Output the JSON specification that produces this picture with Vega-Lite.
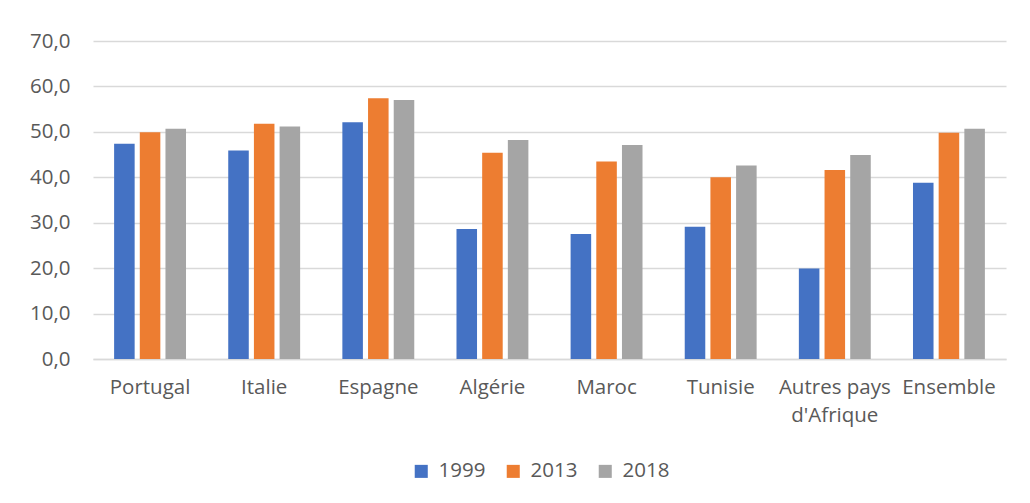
{
  "$schema": "https://vega.github.io/schema/vega-lite/v6.json",
  "width": 913,
  "height": 318,
  "padding": {"left": 29, "top": 31, "right": 22, "bottom": 10},
  "background": "white",
  "config": {
    "font": "Open Sans",
    "view": {"stroke": null}
  },
  "data": {
    "values": [
      {"pays": "Portugal", "annee": "1999", "valeur": 47.4},
      {"pays": "Portugal", "annee": "2013", "valeur": 49.9},
      {"pays": "Portugal", "annee": "2018", "valeur": 50.7},
      {"pays": "Italie", "annee": "1999", "valeur": 45.9},
      {"pays": "Italie", "annee": "2013", "valeur": 51.8},
      {"pays": "Italie", "annee": "2018", "valeur": 51.2},
      {"pays": "Espagne", "annee": "1999", "valeur": 52.1},
      {"pays": "Espagne", "annee": "2013", "valeur": 57.4},
      {"pays": "Espagne", "annee": "2018", "valeur": 57.0},
      {"pays": "Algérie", "annee": "1999", "valeur": 28.6},
      {"pays": "Algérie", "annee": "2013", "valeur": 45.4},
      {"pays": "Algérie", "annee": "2018", "valeur": 48.2},
      {"pays": "Maroc", "annee": "1999", "valeur": 27.5},
      {"pays": "Maroc", "annee": "2013", "valeur": 43.5},
      {"pays": "Maroc", "annee": "2018", "valeur": 47.1},
      {"pays": "Tunisie", "annee": "1999", "valeur": 29.1},
      {"pays": "Tunisie", "annee": "2013", "valeur": 40.0},
      {"pays": "Tunisie", "annee": "2018", "valeur": 42.6},
      {"pays": "Autres pays|d'Afrique", "annee": "1999", "valeur": 19.9},
      {"pays": "Autres pays|d'Afrique", "annee": "2013", "valeur": 41.6},
      {"pays": "Autres pays|d'Afrique", "annee": "2018", "valeur": 44.9},
      {"pays": "Ensemble", "annee": "1999", "valeur": 38.8},
      {"pays": "Ensemble", "annee": "2013", "valeur": 49.8},
      {"pays": "Ensemble", "annee": "2018", "valeur": 50.7}
    ]
  },
  "mark": {"type": "bar"},
  "encoding": {
    "x": {
      "field": "pays",
      "type": "nominal",
      "sort": null,
      "scale": {"paddingInner": 0.37, "paddingOuter": 0.185},
      "axis": {
        "title": null,
        "labelAngle": 0,
        "labelFontSize": 20.5,
        "labelColor": "#595959",
        "labelPadding": 18,
        "labelExpr": "split(datum.label, '|')",
        "labelLineHeight": 28,
        "ticks": false,
        "domainColor": "#d9d9d9",
        "domainWidth": 1.5
      }
    },
    "xOffset": {
      "field": "annee",
      "type": "nominal",
      "scale": {"paddingInner": 0.2}
    },
    "y": {
      "field": "valeur",
      "type": "quantitative",
      "scale": {"domain": [0, 70], "nice": false},
      "axis": {
        "title": null,
        "values": [0, 10, 20, 30, 40, 50, 60, 70],
        "format": ".1f",
        "labelExpr": "replace(datum.label, '.', ',')",
        "labelFontSize": 20.5,
        "labelColor": "#595959",
        "labelPadding": 23,
        "ticks": false,
        "domain": false,
        "gridColor": "#d9d9d9",
        "gridWidth": 1.5
      }
    },
    "color": {
      "field": "annee",
      "type": "nominal",
      "scale": {"domain": ["1999", "2013", "2018"], "range": ["#4472c4", "#ed7d31", "#a5a5a5"]},
      "legend": {
        "title": null,
        "orient": "none",
        "legendX": 318,
        "legendY": 420,
        "direction": "horizontal",
        "symbolType": "square",
        "symbolSize": 170,
        "symbolStrokeWidth": 0,
        "symbolOffset": 0,
        "labelFontSize": 20.5,
        "labelColor": "#595959",
        "columnPadding": 17,
        "labelOffset": 7
      }
    }
  }
}
